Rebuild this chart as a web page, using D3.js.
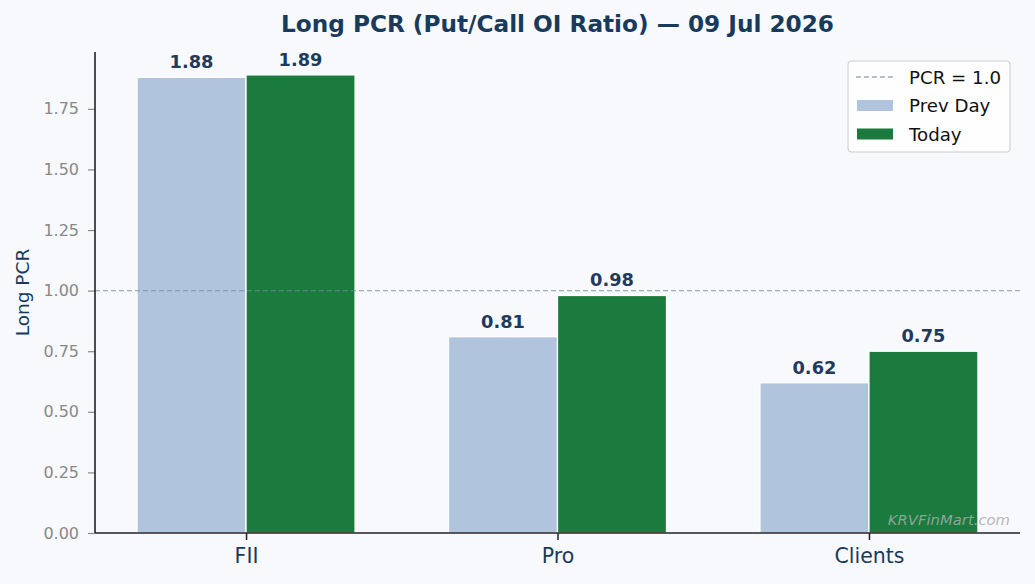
<!DOCTYPE html>
<html>
<head>
<meta charset="utf-8">
<script src="https://cdn.jsdelivr.net/npm/d3@7"></script>
<style>
  body { margin: 0; background: #f7f9fc; }
  text { font-family: 'DejaVu Sans', sans-serif; }
</style>
</head>
<body>
<div id="chart"></div>
<script>
const categories = ['FII', 'Pro', 'Clients'];
const prevDay = [1.88, 0.81, 0.62];
const today = [1.89, 0.98, 0.75];
const yTicks = [0, 0.25, 0.5, 0.75, 1.0, 1.25, 1.5, 1.75];
const refLevel = 1.0;

const width = 1035;
const height = 584;
const margin = { top: 52, right: 15, bottom: 51, left: 95 };

const usableArea = {
  top: margin.top,
  right: width - margin.right,
  bottom: height - margin.bottom,
  left: margin.left,
};

const svg = d3
  .select('#chart')
  .append('svg')
  .attr('width', width)
  .attr('height', height);

svg.append('rect').attr('width', width).attr('height', height).attr('fill', '#f7f9fc');

// matplotlib-like x limits: bars span -0.35..2.35, plus 5% margin
const barW = 0.35;
const xScale = d3
  .scaleLinear()
  .domain([-0.485, categories.length - 1 + 0.485])
  .range([usableArea.left, usableArea.right]);

const yMax = d3.max([...prevDay, ...today]) * 1.05;
const yScale = d3.scaleLinear().domain([0, yMax]).range([usableArea.bottom, usableArea.top]);

const series = [
  { name: 'Prev Day', values: prevDay, color: '#b0c4de', offset: -barW / 2 },
  { name: 'Today', values: today, color: '#1b7a3d', offset: barW / 2 },
];

// bars
series.forEach((s) => {
  const g = svg.append('g');
  g.selectAll('rect')
    .data(s.values)
    .join('rect')
    .attr('x', (d, i) => xScale(i + s.offset - barW / 2))
    .attr('width', xScale(barW) - xScale(0))
    .attr('y', (d) => yScale(d))
    .attr('height', (d) => yScale(0) - yScale(d))
    .attr('fill', s.color)
    .attr('stroke', 'white')
    .attr('stroke-width', 1.3);

  g.selectAll('text')
    .data(s.values)
    .join('text')
    .attr('x', (d, i) => xScale(i + s.offset))
    .attr('y', (d) => yScale(d) - 9)
    .attr('text-anchor', 'middle')
    .attr('font-size', 17.8)
    .attr('font-weight', 'bold')
    .attr('fill', '#1f3a5c')
    .text((d) => d.toFixed(2));
});

// reference line
svg.append('line')
  .attr('x1', usableArea.left)
  .attr('x2', usableArea.right)
  .attr('y1', yScale(refLevel))
  .attr('y2', yScale(refLevel))
  .attr('stroke', '#7389a3')
  .attr('stroke-opacity', 0.7)
  .attr('stroke-width', 1.3)
  .attr('stroke-dasharray', '5,3');

// y axis
const yAxis = svg.append('g')
  .attr('transform', `translate(${usableArea.left}, 0)`)
  .call(d3.axisLeft(yScale).tickValues(yTicks).tickFormat(d3.format('.2f')).tickSize(7).tickPadding(9));
yAxis.select('.domain').remove();
yAxis.selectAll('.tick line').attr('stroke', '#888').attr('stroke-width', 1.2);
yAxis.selectAll('.tick text').attr('fill', '#888').attr('font-size', 16).attr('font-family', 'DejaVu Sans');

// x axis
const xAxis = svg.append('g')
  .attr('transform', `translate(0, ${usableArea.bottom})`)
  .call(d3.axisBottom(xScale).tickValues(d3.range(categories.length)).tickFormat((i) => categories[i]).tickSize(7).tickPadding(8));
xAxis.select('.domain').remove();
xAxis.selectAll('.tick line').attr('stroke', '#222').attr('stroke-width', 1.5);
xAxis.selectAll('.tick text').attr('fill', '#1a3a5c').attr('font-size', 20.5).attr('font-family', 'DejaVu Sans');

// spines
svg.append('line')
  .attr('x1', usableArea.left).attr('x2', usableArea.left)
  .attr('y1', usableArea.top).attr('y2', usableArea.bottom)
  .attr('stroke', '#222').attr('stroke-width', 1.6);
svg.append('line')
  .attr('x1', usableArea.left).attr('x2', usableArea.right)
  .attr('y1', usableArea.bottom).attr('y2', usableArea.bottom)
  .attr('stroke', '#222').attr('stroke-width', 1.6);

// y label
svg.append('text')
  .attr('transform', `translate(29, ${(usableArea.top + usableArea.bottom) / 2}) rotate(-90)`)
  .attr('text-anchor', 'middle')
  .attr('font-size', 18.5)
  .attr('fill', '#1a3a5c')
  .text('Long PCR');

// title
svg.append('text')
  .attr('x', (usableArea.left + usableArea.right) / 2)
  .attr('y', 32)
  .attr('text-anchor', 'middle')
  .attr('font-size', 23.2)
  .attr('font-weight', 'bold')
  .attr('fill', '#1a3a5c')
  .text('Long PCR (Put/Call OI Ratio) — 09 Jul 2026');

// watermark
svg.append('text')
  .attr('x', 1010)
  .attr('y', 525)
  .attr('text-anchor', 'end')
  .attr('font-size', 14.8)
  .attr('font-style', 'italic')
  .attr('fill', '#aaa')
  .attr('fill-opacity', 0.85)
  .text('KRVFinMart.com');

// legend
const legend = svg.append('g').attr('transform', 'translate(848, 61)');
legend.append('rect')
  .attr('width', 162).attr('height', 91).attr('rx', 3)
  .attr('fill', 'white').attr('fill-opacity', 0.85)
  .attr('stroke', '#ccc').attr('stroke-width', 1);

const legendItems = [
  { label: 'PCR = 1.0', type: 'line' },
  ...series.map((s) => ({ label: s.name, type: 'rect', color: s.color })),
];
legendItems.forEach((item, i) => {
  const y = 16 + i * 28.5;
  if (item.type === 'line') {
    legend.append('line')
      .attr('x1', 8).attr('x2', 46).attr('y1', y).attr('y2', y)
      .attr('stroke', '#7389a3').attr('stroke-opacity', 0.7)
      .attr('stroke-width', 1.3).attr('stroke-dasharray', '5,3');
  } else {
    legend.append('rect')
      .attr('x', 9).attr('y', y - 5.5).attr('width', 36).attr('height', 11)
      .attr('fill', item.color);
  }
  legend.append('text')
    .attr('x', 61).attr('y', y + 6.5)
    .attr('font-size', 18.2)
    .attr('fill', '#111')
    .text(item.label);
});
</script>
</body>
</html>
